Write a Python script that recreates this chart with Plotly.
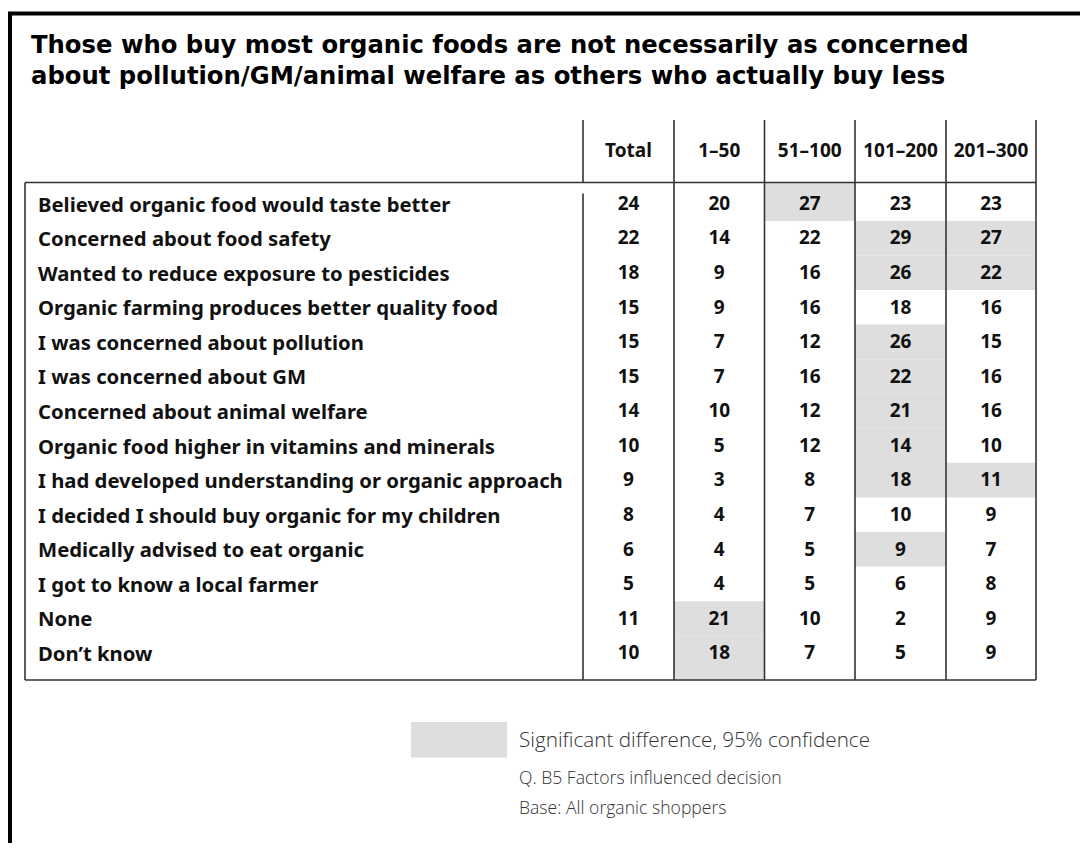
import plotly.graph_objects as go

# ---------------- data ----------------
title_lines = [
    "Those who buy most organic foods are not necessarily as concerned",
    "about pollution/GM/animal welfare as others who actually buy less",
]
columns = ["Total", "1\u201350", "51\u2013100", "101\u2013200", "201\u2013300"]
factors = [
    "Believed organic food would taste better",
    "Concerned about food safety",
    "Wanted to reduce exposure to pesticides",
    "Organic farming produces better quality food",
    "I was concerned about pollution",
    "I was concerned about GM",
    "Concerned about animal welfare",
    "Organic food higher in vitamins and minerals",
    "I had developed understanding or organic approach",
    "I decided I should buy organic for my children",
    "Medically advised to eat organic",
    "I got to know a local farmer",
    "None",
    "Don\u2019t know",
]
total = [24, 22, 18, 15, 15, 15, 14, 10, 9, 8, 6, 5, 11, 10]
spend_1_50 = [20, 14, 9, 9, 7, 7, 10, 5, 3, 4, 4, 4, 21, 18]
spend_51_100 = [27, 22, 16, 16, 12, 16, 12, 12, 8, 7, 5, 5, 10, 7]
spend_101_200 = [23, 29, 26, 18, 26, 22, 21, 14, 18, 10, 9, 6, 2, 5]
spend_201_300 = [23, 27, 22, 16, 15, 16, 16, 10, 11, 9, 7, 8, 9, 9]
# significance flags (1 = significant difference, 95% confidence)
sig_total = [0] * 14
sig_1_50 = [0, 0, 0, 0, 0, 0, 0, 0, 0, 0, 0, 0, 1, 1]
sig_51_100 = [1, 0, 0, 0, 0, 0, 0, 0, 0, 0, 0, 0, 0, 0]
sig_101_200 = [0, 1, 1, 0, 1, 1, 1, 1, 1, 0, 1, 0, 0, 0]
sig_201_300 = [0, 1, 1, 0, 0, 0, 0, 0, 1, 0, 0, 0, 0, 0]
legend_text = "Significant difference, 95% confidence"
notes = ["Q. B5 Factors influenced decision", "Base: All organic shoppers"]

# ---------------- layout geometry (screen pixels) ----------------
W, H = 1072, 835          # figure size (page body has 8px margin)
OFF = 8                   # page offset
SHADE = "#dedede"
LINE = "#333333"
FONT_T = "DejaVu Sans"
FONT_B = "Noto Sans"
FONT_L = "Open Sans"

col_edges = [583, 674, 764.5, 855, 946, 1036]
table_left = 25
header_top = 120
header_bottom = 182.5
table_bottom = 680
row0_center = 203.6
row_step = 34.57
num_dy = 1.5              # small baseline nudge for cell numbers

values = [total, spend_1_50, spend_51_100, spend_101_200, spend_201_300]
sigs = [sig_total, sig_1_50, sig_51_100, sig_101_200, sig_201_300]

n_rows = len(factors)
row_centers = [row0_center + i * row_step for i in range(n_rows)]
col_centers = [(col_edges[j] + col_edges[j + 1]) / 2 for j in range(len(columns))]

fig = go.Figure()
shapes = []

# shaded (significant) cells
for j, sig in enumerate(sigs):
    for i, s in enumerate(sig):
        if s:
            y0 = header_bottom if i == 0 else row_centers[i] - row_step / 2
            y1 = table_bottom if i == n_rows - 1 else row_centers[i] + row_step / 2
            shapes.append(dict(type="rect", x0=col_edges[j], x1=col_edges[j + 1], y0=y0, y1=y1,
                               fillcolor=SHADE, line=dict(width=0), layer="below"))

# table lines
lw = 1.6
shapes.append(dict(type="line", x0=table_left, x1=col_edges[-1], y0=header_bottom, y1=header_bottom,
                   line=dict(color=LINE, width=lw)))
shapes.append(dict(type="line", x0=table_left, x1=col_edges[-1], y0=table_bottom, y1=table_bottom,
                   line=dict(color=LINE, width=lw)))
shapes.append(dict(type="line", x0=table_left, x1=table_left, y0=header_bottom, y1=table_bottom,
                   line=dict(color=LINE, width=lw)))
# first column edge has a small gap below the header rule
shapes.append(dict(type="line", x0=col_edges[0], x1=col_edges[0], y0=header_top, y1=header_bottom,
                   line=dict(color=LINE, width=lw)))
shapes.append(dict(type="line", x0=col_edges[0], x1=col_edges[0], y0=header_bottom + 11, y1=table_bottom,
                   line=dict(color=LINE, width=lw)))
for x in col_edges[1:]:
    shapes.append(dict(type="line", x0=x, x1=x, y0=header_top, y1=table_bottom,
                       line=dict(color=LINE, width=lw)))

# outer thick frame (right/bottom sides lie outside the view)
shapes.append(dict(type="rect", x0=10, x1=1200, y0=13.5, y1=1000,
                   line=dict(color="black", width=4), fillcolor="rgba(0,0,0,0)"))

# legend swatch
shapes.append(dict(type="rect", x0=411, x1=507, y0=722, y1=757.5,
                   fillcolor=SHADE, line=dict(width=0)))

for s in shapes:
    s["xref"] = "x"
    s["yref"] = "y"
fig.update_layout(shapes=shapes)

# numbers in cells
for j, vals in enumerate(values):
    fig.add_trace(go.Scatter(
        x=[col_centers[j]] * n_rows, y=[r + num_dy for r in row_centers], mode="text",
        text=[str(v) for v in vals], textposition="middle center",
        textfont=dict(family=FONT_B, size=19, color="#111111", weight="bold"),
        hoverinfo="skip", showlegend=False, cliponaxis=False))

# header labels
fig.add_trace(go.Scatter(
    x=col_centers, y=[152] * len(columns), mode="text", text=columns,
    textposition="middle center",
    textfont=dict(family=FONT_B, size=19, color="#111111", weight="bold"),
    hoverinfo="skip", showlegend=False, cliponaxis=False))

annotations = []
# row labels
for i, f in enumerate(factors):
    annotations.append(dict(x=36, y=row_centers[i], text=f, xanchor="left", yanchor="middle",
                            showarrow=False,
                            font=dict(family=FONT_B, size=20.3, color="#111111", weight="bold")))
# title
for k, t in enumerate(title_lines):
    annotations.append(dict(x=29, y=44 + k * 31, text=t, xanchor="left", yanchor="middle",
                            showarrow=False,
                            font=dict(family=FONT_T, size=24.3, color="#000000", weight="bold")))
# legend and notes
annotations.append(dict(x=517, y=738.5, text=legend_text, xanchor="left", yanchor="middle",
                        showarrow=False, font=dict(family=FONT_L, size=20.7, color="#333333", weight=300)))
for k, t in enumerate(notes):
    annotations.append(dict(x=517, y=776.5 + k * 30.5, text=t, xanchor="left", yanchor="middle",
                            showarrow=False, font=dict(family=FONT_L, size=17.6, color="#333333", weight=300)))
for a in annotations:
    a["xref"] = "x"
    a["yref"] = "y"

fig.update_layout(
    annotations=annotations,
    width=W, height=H,
    margin=dict(l=0, r=0, t=0, b=0),
    paper_bgcolor="white", plot_bgcolor="white",
    xaxis=dict(range=[OFF, OFF + W], visible=False, fixedrange=True),
    yaxis=dict(range=[OFF + H, OFF], visible=False, fixedrange=True),
    showlegend=False,
)

fig.write_html("out.html", config={"displayModeBar": False})
